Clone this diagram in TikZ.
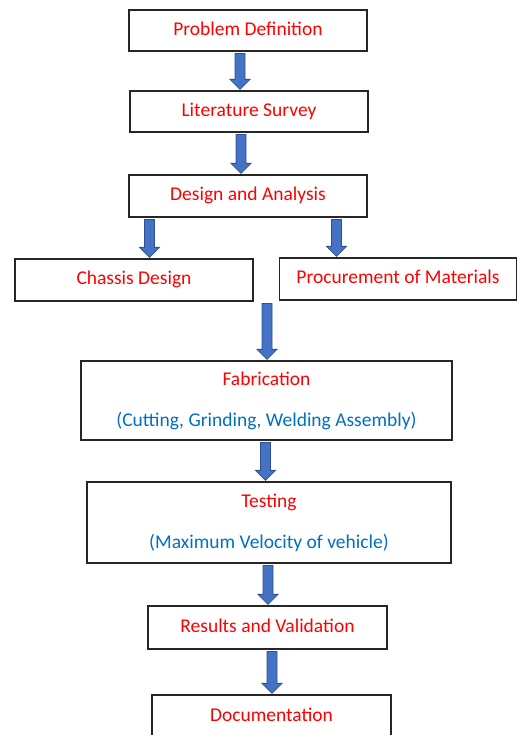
\documentclass[tikz,border=0pt]{standalone}
\usepackage{fontspec}
\setmainfont{Carlito}
\usetikzlibrary{calc}
\definecolor{note text}{HTML}{0070C0}
\definecolor{arrow area}{HTML}{4472C4}
\definecolor{arrow edge}{HTML}{2F528F}
\tikzset{box/.style={draw=black!85, line width=1.2pt, fill=white, inner sep=0pt,
        minimum width=238pt, minimum height=41pt, text=red,
        font=\fontsize{19.5pt}{41pt}\selectfont},
    stepbox/.style={box, text height=14pt, text depth=4pt},
    bigbox/.style={box, align=center},
    flow/.style={fill=arrow area, draw=arrow edge, line width=0.8pt}}
\newcommand{\flowarrow}[3]{%
    \coordinate (s) at (#2.south -| #1,0);
    \coordinate (e) at (#3.north -| #1,0);
    \draw[flow] ($(s)+(-5,-2)$) -- ($(e)+(-5,11)$) -- ++(-5,0) -- ($(e)+(0,1)$)
        -- ++(10,10) -- ++(-5,0) -- ($(s)+(5,-2)$) -- cycle;}

\begin{document}
\begin{tikzpicture}[x=1pt, y=1pt]
    \useasboundingbox (0,0) rectangle (518,735);
    \clip (0,0) rectangle (518,735);
    \node[stepbox] (prob) at (248,704.5) {Problem Definition};
    \node[stepbox] (lit) at (249,623.5) {Literature Survey};
    \node[stepbox, minimum height=42pt] (design) at (248,539) {Design and Analysis};
    \node[stepbox, minimum height=42pt] (chassis) at (134,455) {Chassis Design};
    \node[stepbox, minimum width=237pt, minimum height=42pt] (procure) at (398,456) {Procurement of Materials};
    \node[bigbox, minimum width=371pt, minimum height=79pt] (fab) at (266.5,334.5)
        {Fabrication\\\textcolor{note text}{(Cutting, Grinding, Welding Assembly)}};
    \node[bigbox, minimum width=364pt, minimum height=81pt] (test) at (269,212.5)
        {Testing\\\textcolor{note text}{(Maximum Velocity of vehicle)}};
    \node[stepbox, minimum width=239pt, minimum height=43pt] (result) at (267.5,107.5) {Results and Validation};
    \node[stepbox, minimum width=239pt, minimum height=44pt] (doc) at (271.5,18) {Documentation};
    \flowarrow{240}{prob}{lit}
    \flowarrow{241}{lit}{design}
    \flowarrow{149.5}{design}{chassis}
    \flowarrow{336.5}{design}{procure}
    \flowarrow{267}{chassis}{fab}
    \flowarrow{265.5}{fab}{test}
    \flowarrow{268}{test}{result}
    \flowarrow{272}{result}{doc}
\end{tikzpicture}
\end{document}
